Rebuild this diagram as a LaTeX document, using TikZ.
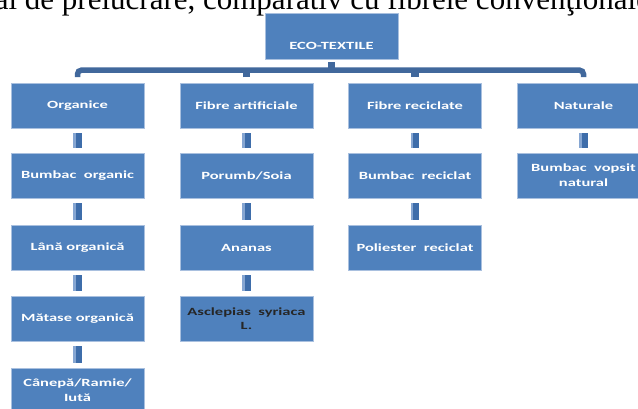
\documentclass[tikz,border=0pt]{standalone}
\usepackage{fontspec}
\setmainfont{Liberation Serif}
\newfontfamily\boxfont[FakeStretch=1.5]{Carlito}
\definecolor{boxblue}{HTML}{4F81BD}
\definecolor{barblue}{HTML}{41689C}
\definecolor{connblue}{HTML}{3E6DAA}
\definecolor{connlight}{HTML}{86A6D2}
\definecolor{boxedge}{HTML}{A9C0DF}
\begin{document}
\begin{tikzpicture}[x=1pt,y=-1pt,
  box/.style={rectangle, fill=boxblue, draw=boxedge, line width=0.7pt,
    minimum width=133pt, minimum height=45pt, inner sep=0pt, align=center,
    text=white, font=\boxfont\bfseries\fontsize{11}{15}\selectfont},
  boxtext/.style={inner sep=0pt, text=white, font=\boxfont\bfseries\fontsize{11}{15}\selectfont},
  bar/.style={draw=barblue, line width=5.5pt, rounded corners=4pt},
  stub/.style={draw=barblue, line width=7.5pt},
  conn/.style={draw=connblue, line width=8.5pt,
    postaction={draw=connlight, line width=2.5pt, transform canvas={xshift=-3pt}}}]
\useasboundingbox (0,0) rectangle (638,408);
\clip (0,0) rectangle (638,408);
\fill[white] (0,0) rectangle (638,408);

% cropped line of text above the chart
\node[anchor=base west, inner sep=0pt, font=\fontsize{31}{32}\selectfont] (toptext) at (-14,9)
  {ial de prelucrare, comparativ cu fibrele convenţionale};

% root
\node[box, minimum height=46pt] (eco) at (331.5,36) {};
\node[boxtext] (ecotext) at (331.5,46) {ECO-TEXTILE};

% level 1
\node[box] (c1) at (77.5,105.5) {Organice};
\node[box] (c2) at (246.5,105.5) {Fibre artificiale};
\node[box] (c3) at (415,105.5) {Fibre reciclate};
\node[box] (c4) at (583.5,105.5) {Naturale};

% column 1
\node[box] (o2) at (77.5,175.5) {Bumbac\ \ organic};
\node[box] (o3) at (77.5,247.5) {Lână organică};
\node[box] (o4) at (77.5,318.5) {Mătase organică};
\node[box] (o5) at (77.5,390.5) {Cânepă/Ramie/\\Iută};

% column 2
\node[box] (a2) at (246.5,175.5) {Porumb/Soia};
\node[box] (a3) at (246.5,247.5) {Ananas};
\node[box, text=black!85, font=\boxfont\bfseries\fontsize{11}{14}\selectfont] (a4) at (246.5,318.5) {Asclepias\ \ syriaca\\L.};

% column 3
\node[box] (r2) at (415,175.5) {Bumbac\ \ reciclat};
\node[box] (r3) at (415,247.5) {Poliester\ \ reciclat};

% column 4
\node[box] (n2) at (583.5,175.5) {Bumbac\ \ vopsit\\natural};

% bracket from root
\draw[stub] ([yshift=-3pt]eco.south) -- ++(0,7);
\draw[bar] ([yshift=5.5pt]c1.north) -- ++(0,-7) -| ([yshift=5.5pt]c4.north);
\draw[stub] ([yshift=5.5pt]c2.north) -- ++(0,-7);
\draw[stub] ([yshift=5.5pt]c3.north) -- ++(0,-7);

% vertical connectors
\foreach \a/\b in {c1/o2, o2/o3, o3/o4, o4/o5, c2/a2, a2/a3, a3/a4, c3/r2, r2/r3, c4/n2}
  \draw[conn] ([yshift=-5pt]\a.south) -- ([yshift=5pt]\b.north);
\end{tikzpicture}
\end{document}
